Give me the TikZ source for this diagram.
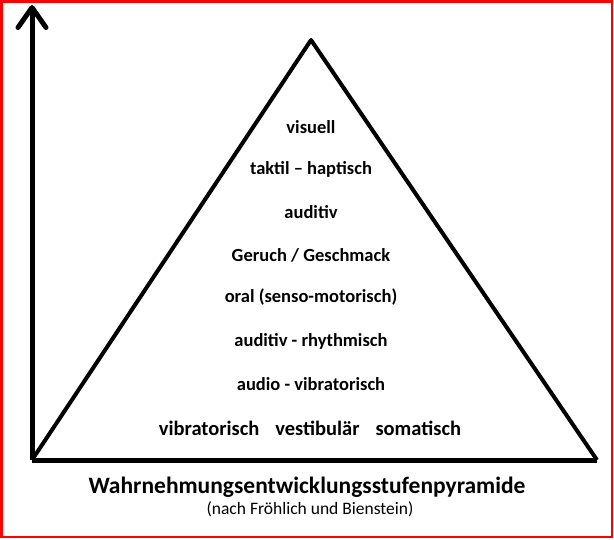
\documentclass[tikz,border=0pt]{standalone}
\usepackage{fontspec}
\setmainfont{Carlito}
\usetikzlibrary{arrows.meta}

\begin{document}
\begin{tikzpicture}[
  x = 1pt, y = -1pt,
  level/.style = {font=\bfseries\fontsize{18.5}{22}\selectfont, inner sep=0pt},
  side/.style = {line width=4pt, line join=round},
  axis/.style = {line width=5pt, -{Straight Barb[length=20pt, width=28pt, round]}}
]
\useasboundingbox (0,0) rectangle (614,539);
\draw[red, line width=2.5pt] (1.5,1.5) rectangle (612,537);

\coordinate (origin) at (32,460);
\coordinate (ytop) at (32,5);
\coordinate (apex) at (311,40);
\coordinate (corner) at (597,460);

% pyramide
\draw[side] (origin) -- (apex) -- (corner);
\draw[line width=5pt] (origin) -- (corner);
\draw[axis] (origin) -- (ytop);

% stufen
\node[level] (visuell) at (311,127) {visuell};
\node[level] (taktil) at (311,169) {taktil – haptisch};
\node[level] (auditiv) at (311,212) {auditiv};
\node[level] (geruch) at (311,255) {Geruch / Geschmack};
\node[level] (oral) at (311,297) {oral (senso-motorisch)};
\node[level] (rhythm) at (311,341) {auditiv - rhythmisch};
\node[level] (audio) at (311,384) {audio - vibratorisch};
\node[level, font=\bfseries\fontsize{20.5}{24}\selectfont] (basis) at (310,428)
  {vibratorisch\hspace{0.55em} vestibulär\hspace{0.55em} somatisch};

\node[font=\bfseries\fontsize{23.5}{28}\selectfont, inner sep=0pt] (title) at (307,487)
  {Wahrnehmungsentwicklungsstufenpyramide};
\node[font=\fontsize{17.5}{20}\selectfont, inner sep=0pt] (source) at (310,509)
  {(nach Fröhlich und Bienstein)};
\end{tikzpicture}
\end{document}
